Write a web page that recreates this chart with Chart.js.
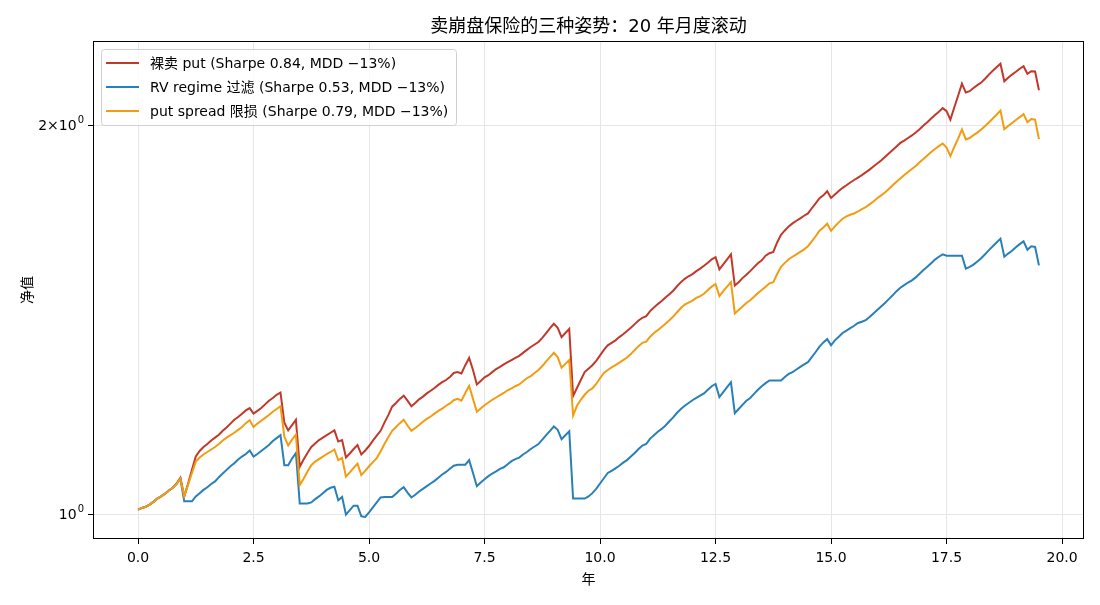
<!DOCTYPE html>
<html>
<head>
<meta charset="utf-8">
<script src="https://cdn.jsdelivr.net/npm/chart.js@4.4.1/dist/chart.umd.min.js"></script>
<style>
  html, body { margin: 0; padding: 0; background: #fff; }
  canvas { display: block; }
</style>
</head>
<body>
<canvas id="myChart" width="1100" height="605"></canvas>
<script>
const chartTitle = '卖崩盘保险的三种姿势：20 年月度滚动';
const seriesNames = [
    '裸卖 put (Sharpe 0.84, MDD −13%)',
    'RV regime 过滤 (Sharpe 0.53, MDD −13%)',
    'put spread 限损 (Sharpe 0.79, MDD −13%)'
];
const seriesColors = ['#c0392b', '#2980b9', '#f39c12'];
const xTicks = [0, 2.5, 5, 7.5, 10, 12.5, 15, 17.5, 20];
const yTicks = [1, 2];
// 对数轴刻度: 底数部分 + 上标指数
const yTickBase = ['10', '2×10'];
const yTickExp = ['0', '0'];

// 净值, 每月一个点
const nakedPut = [
    1.009, 1.012, 1.014, 1.018, 1.023, 1.029, 1.033, 1.038, 1.044, 1.049,
    1.057, 1.068, 1.033, 1.057, 1.083, 1.109, 1.120, 1.128, 1.134, 1.141,
    1.147, 1.153, 1.161, 1.168, 1.176, 1.184, 1.190, 1.197, 1.204, 1.209,
    1.197, 1.203, 1.209, 1.217, 1.225, 1.231, 1.238, 1.243, 1.178, 1.162,
    1.173, 1.184, 1.089, 1.103, 1.116, 1.128, 1.135, 1.142, 1.147, 1.152,
    1.157, 1.162, 1.139, 1.142, 1.107, 1.115, 1.124, 1.132, 1.113, 1.121,
    1.130, 1.141, 1.151, 1.161, 1.178, 1.194, 1.212, 1.220, 1.229, 1.236,
    1.225, 1.213, 1.220, 1.228, 1.234, 1.241, 1.247, 1.253, 1.260, 1.266,
    1.271, 1.278, 1.287, 1.289, 1.286, 1.305, 1.322, 1.294, 1.261, 1.269,
    1.277, 1.282, 1.289, 1.296, 1.301, 1.307, 1.312, 1.317, 1.322, 1.327,
    1.334, 1.341, 1.348, 1.354, 1.360, 1.370, 1.382, 1.394, 1.405, 1.395,
    1.372, 1.382, 1.392, 1.235, 1.253, 1.271, 1.289, 1.297, 1.305, 1.315,
    1.328, 1.341, 1.352, 1.358, 1.364, 1.372, 1.379, 1.387, 1.395, 1.404,
    1.413, 1.420, 1.424, 1.437, 1.446, 1.455, 1.463, 1.472, 1.481, 1.490,
    1.502, 1.513, 1.522, 1.529, 1.535, 1.543, 1.550, 1.558, 1.566, 1.576,
    1.582, 1.548, 1.562, 1.576, 1.590, 1.504, 1.513, 1.524, 1.533, 1.543,
    1.554, 1.565, 1.573, 1.586, 1.593, 1.597, 1.624, 1.646, 1.659, 1.671,
    1.680, 1.688, 1.695, 1.703, 1.710, 1.726, 1.741, 1.757, 1.766, 1.779,
    1.758, 1.769, 1.780, 1.790, 1.798, 1.807, 1.815, 1.823, 1.831, 1.840,
    1.849, 1.859, 1.869, 1.879, 1.891, 1.903, 1.915, 1.927, 1.939, 1.947,
    1.956, 1.965, 1.975, 1.987, 2.000, 2.012, 2.025, 2.038, 2.050, 2.063,
    2.052, 2.021, 2.065, 2.109, 2.155, 2.121, 2.126, 2.138, 2.149, 2.159,
    2.174, 2.190, 2.205, 2.219, 2.233, 2.164, 2.178, 2.190, 2.201, 2.213,
    2.223, 2.193, 2.203, 2.202, 2.130
];
const rvFilter = [
    1.009, 1.012, 1.014, 1.018, 1.023, 1.029, 1.033, 1.038, 1.044, 1.049,
    1.056, 1.066, 1.024, 1.024, 1.024, 1.033, 1.039, 1.045, 1.050, 1.056,
    1.061, 1.069, 1.076, 1.083, 1.090, 1.096, 1.103, 1.109, 1.114, 1.121,
    1.109, 1.114, 1.120, 1.126, 1.132, 1.140, 1.146, 1.152, 1.092, 1.092,
    1.105, 1.116, 1.020, 1.020, 1.020, 1.022, 1.028, 1.033, 1.039, 1.045,
    1.049, 1.051, 1.026, 1.032, 1.000, 1.008, 1.016, 1.016, 0.997, 0.996,
    1.004, 1.013, 1.022, 1.031, 1.032, 1.032, 1.032, 1.038, 1.045, 1.050,
    1.040, 1.031, 1.036, 1.042, 1.047, 1.052, 1.057, 1.062, 1.068, 1.074,
    1.079, 1.085, 1.091, 1.093, 1.093, 1.093, 1.102, 1.077, 1.052, 1.059,
    1.065, 1.071, 1.076, 1.080, 1.085, 1.088, 1.094, 1.100, 1.104, 1.107,
    1.113, 1.118, 1.124, 1.129, 1.134, 1.143, 1.152, 1.161, 1.170, 1.163,
    1.144, 1.152, 1.160, 1.029, 1.029, 1.029, 1.029, 1.033, 1.039, 1.047,
    1.057, 1.067, 1.077, 1.081, 1.086, 1.091, 1.097, 1.102, 1.109, 1.116,
    1.124, 1.131, 1.134, 1.145, 1.152, 1.159, 1.165, 1.172, 1.181, 1.189,
    1.199, 1.207, 1.214, 1.220, 1.226, 1.231, 1.236, 1.241, 1.249, 1.257,
    1.262, 1.233, 1.244, 1.255, 1.266, 1.198, 1.207, 1.216, 1.225, 1.231,
    1.240, 1.249, 1.257, 1.264, 1.270, 1.270, 1.270, 1.270, 1.278, 1.285,
    1.289, 1.295, 1.301, 1.307, 1.312, 1.324, 1.336, 1.349, 1.359, 1.367,
    1.352, 1.364, 1.373, 1.382, 1.388, 1.394, 1.400, 1.407, 1.410, 1.414,
    1.422, 1.431, 1.440, 1.449, 1.458, 1.468, 1.478, 1.489, 1.498, 1.505,
    1.512, 1.518, 1.526, 1.536, 1.546, 1.555, 1.565, 1.575, 1.583, 1.590,
    1.586, 1.586, 1.586, 1.586, 1.586, 1.550, 1.555, 1.561, 1.570, 1.579,
    1.590, 1.602, 1.613, 1.624, 1.635, 1.583, 1.592, 1.600, 1.610, 1.619,
    1.627, 1.603, 1.613, 1.611, 1.559
];
const putSpread = [
    1.009, 1.012, 1.014, 1.018, 1.023, 1.029, 1.033, 1.038, 1.044, 1.049,
    1.056, 1.066, 1.033, 1.055, 1.077, 1.099, 1.107, 1.113, 1.118, 1.123,
    1.128, 1.134, 1.141, 1.147, 1.152, 1.157, 1.163, 1.169, 1.177, 1.183,
    1.169, 1.176, 1.182, 1.188, 1.194, 1.201, 1.207, 1.213, 1.149, 1.131,
    1.143, 1.153, 1.054, 1.066, 1.080, 1.092, 1.099, 1.104, 1.109, 1.114,
    1.118, 1.123, 1.102, 1.106, 1.070, 1.078, 1.087, 1.095, 1.073, 1.081,
    1.090, 1.098, 1.106, 1.119, 1.134, 1.148, 1.161, 1.169, 1.177, 1.184,
    1.172, 1.161, 1.167, 1.173, 1.180, 1.186, 1.191, 1.197, 1.203, 1.208,
    1.214, 1.219, 1.226, 1.229, 1.225, 1.242, 1.258, 1.229, 1.201, 1.208,
    1.215, 1.221, 1.227, 1.232, 1.237, 1.242, 1.248, 1.252, 1.257, 1.261,
    1.268, 1.275, 1.280, 1.287, 1.294, 1.303, 1.314, 1.324, 1.334, 1.324,
    1.299, 1.308, 1.317, 1.193, 1.214, 1.227, 1.238, 1.247, 1.252, 1.262,
    1.275, 1.287, 1.294, 1.300, 1.305, 1.311, 1.317, 1.323, 1.331, 1.341,
    1.350, 1.358, 1.361, 1.373, 1.382, 1.389, 1.397, 1.405, 1.414, 1.423,
    1.434, 1.445, 1.454, 1.459, 1.464, 1.471, 1.476, 1.482, 1.492, 1.501,
    1.508, 1.476, 1.489, 1.501, 1.513, 1.431, 1.440, 1.449, 1.458, 1.465,
    1.474, 1.484, 1.492, 1.501, 1.510, 1.513, 1.535, 1.555, 1.566, 1.576,
    1.583, 1.590, 1.597, 1.604, 1.613, 1.627, 1.642, 1.658, 1.668, 1.679,
    1.658, 1.671, 1.683, 1.694, 1.701, 1.706, 1.710, 1.716, 1.723, 1.729,
    1.738, 1.747, 1.757, 1.766, 1.775, 1.786, 1.798, 1.809, 1.820, 1.831,
    1.841, 1.851, 1.861, 1.873, 1.884, 1.896, 1.908, 1.918, 1.928, 1.937,
    1.923, 1.894, 1.925, 1.954, 1.986, 1.951, 1.956, 1.966, 1.975, 1.986,
    1.998, 2.011, 2.025, 2.039, 2.054, 1.987, 1.998, 2.009, 2.020, 2.030,
    2.041, 2.012, 2.023, 2.021, 1.952
];

// x 轴: 年 (第 i 个月 = i / 12)
const years = nakedPut.map((_, i) => i / 12);

const fontFamily = "'DejaVu Sans', 'Noto Sans CJK SC', sans-serif";
const baseFont = { family: fontFamily, size: 14 };

const canvas = document.getElementById('myChart');

function toPoints(values) {
    return values.map((v, i) => ({ x: years[i], y: v }));
}

// 边框 + 标题 + 图例 + 对数刻度标签 (matplotlib 风格)
const decorations = {
    id: 'decorations',
    afterDraw: chart => {
        const ctx = chart.ctx;
        const area = chart.chartArea;
        ctx.save();

        ctx.strokeStyle = '#000';
        ctx.lineWidth = 1;
        ctx.strokeRect(area.left + 0.5, area.top + 0.5, area.right - area.left - 1, area.bottom - area.top - 1);

        ctx.fillStyle = '#000';
        ctx.font = `18px ${fontFamily}`;
        ctx.textAlign = 'center';
        ctx.textBaseline = 'middle';
        ctx.fillText(chartTitle, (area.left + area.right) / 2, 27);

        // y 刻度: 10^0, 2×10^0
        const yScale = chart.scales.y;
        const labelRight = area.left - 9;
        yTicks.forEach((v, i) => {
            const y = yScale.getPixelForValue(v);
            ctx.font = `10px ${fontFamily}`;
            ctx.textAlign = 'right';
            ctx.textBaseline = 'middle';
            const expW = ctx.measureText(yTickExp[i]).width;
            ctx.fillText(yTickExp[i], labelRight, y - 5);
            ctx.font = `14px ${fontFamily}`;
            ctx.fillText(yTickBase[i], labelRight - expW - 1, y + 1);
        });

        const boxX = area.left + 8, boxY = area.top + 8;
        const boxW = 355, boxH = 76;
        ctx.beginPath();
        ctx.roundRect(boxX + 0.5, boxY + 0.5, boxW, boxH, 3);
        ctx.fillStyle = 'rgba(255,255,255,0.8)';
        ctx.fill();
        ctx.strokeStyle = '#d0d0d0';
        ctx.stroke();

        ctx.font = `14px ${fontFamily}`;
        ctx.textAlign = 'left';
        ctx.textBaseline = 'middle';
        seriesNames.forEach((name, i) => {
            const y = boxY + 14 + i * 24;
            ctx.strokeStyle = seriesColors[i];
            ctx.lineWidth = 2;
            ctx.beginPath();
            ctx.moveTo(boxX + 5, y);
            ctx.lineTo(boxX + 38, y);
            ctx.stroke();
            ctx.fillStyle = '#000';
            ctx.fillText(name, boxX + 49, y + 1);
        });
        ctx.restore();
    }
};

const chart = new Chart(canvas, {
    type: 'line',
    data: {
        datasets: [
            { label: seriesNames[0], data: toPoints(nakedPut), borderColor: seriesColors[0], order: 2 },
            { label: seriesNames[1], data: toPoints(rvFilter), borderColor: seriesColors[1], order: 1 },
            { label: seriesNames[2], data: toPoints(putSpread), borderColor: seriesColors[2], order: 0 }
        ]
    },
    options: {
        responsive: false,
        animation: false,
        devicePixelRatio: 1,
        layout: { padding: { top: 41, right: 16, left: 0, bottom: 0 } },
        elements: {
            line: { borderWidth: 2, tension: 0, fill: false },
            point: { radius: 0, hoverRadius: 0 }
        },
        plugins: {
            legend: { display: false },
            title: { display: false },
            tooltip: { enabled: false }
        },
        scales: {
            x: {
                type: 'linear',
                min: -0.975,
                max: 20.475,
                afterBuildTicks: scale => { scale.ticks = xTicks.map(v => ({ value: v })); },
                afterFit: scale => { scale.height = 66; },
                ticks: {
                    callback: v => v.toFixed(1),
                    font: baseFont,
                    color: '#000',
                    padding: 6,
                    maxRotation: 0,
                    autoSkip: false
                },
                grid: { color: '#e6e6e6', tickColor: '#000', tickLength: 5, lineWidth: 1 },
                border: { display: false },
                title: { display: true, text: '年', font: baseFont, color: '#000', padding: { top: 0, bottom: 16 } }
            },
            y: {
                type: 'logarithmic',
                min: 0.9575,
                max: 2.325,
                afterBuildTicks: scale => { scale.ticks = yTicks.map(v => ({ value: v })); },
                afterFit: scale => { scale.width = 93; },
                ticks: {
                    // 标签在插件里画 (带上标)
                    callback: () => '',
                    font: baseFont,
                    padding: 4
                },
                grid: { color: '#e6e6e6', tickColor: '#000', tickLength: 5, lineWidth: 1 },
                border: { display: false },
                title: { display: true, text: '净值', font: baseFont, color: '#000', padding: { top: 20, bottom: 0 } }
            }
        }
    },
    plugins: [decorations]
});
</script>
</body>
</html>
